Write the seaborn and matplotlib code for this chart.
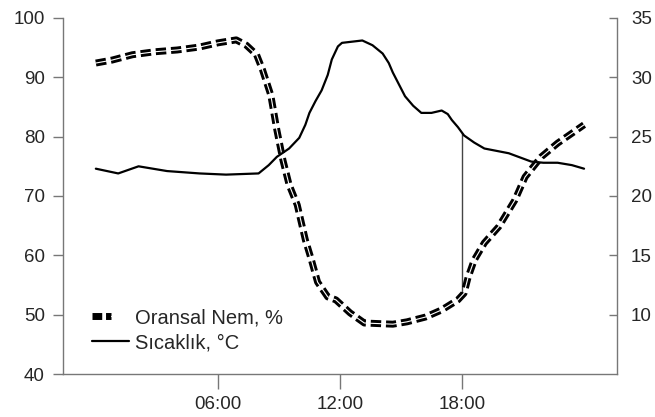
import numpy as np
import pandas as pd
import matplotlib
matplotlib.use("Agg")
import matplotlib.pyplot as plt
import seaborn as sns
from matplotlib.legend_handler import HandlerTuple
from matplotlib.lines import Line2D

# relative humidity (left axis), hours of day
hum_hours = [0.0, 0.8, 1.8, 2.9, 4.0, 5.1, 6.0, 6.9, 7.4, 7.9, 8.2, 8.6, 8.9, 9.2, 9.5,
             9.9, 10.3, 10.6, 10.9, 11.4, 11.8, 12.5, 13.2, 14.6, 15.3, 16.2, 17.0,
             17.8, 18.1, 18.3, 18.6, 19.1, 19.8, 20.6, 21.1, 21.9, 22.7, 23.5, 24.0]
hum_values = [92.4, 92.9, 93.8, 94.3, 94.6, 95.1, 95.8, 96.3, 95.4, 93.8, 91.2, 87.0, 81.1,
              76.0, 71.9, 68.5, 62.6, 59.2, 55.5, 53.0, 52.5, 50.3, 48.6, 48.4, 48.8,
              49.6, 50.8, 52.5, 53.6, 56.3, 59.2, 62.1, 64.8, 69.3, 73.2, 76.6, 78.9,
              80.8, 82.0]

# temperature (right axis)
temp_hours = [0.0, 1.1, 2.1, 3.5, 5.1, 6.4, 8.0, 8.5, 8.9, 9.5, 10.0, 10.3, 10.5, 10.8,
              11.1, 11.4, 11.6, 11.9, 12.1, 12.6, 13.1, 13.6, 14.1, 14.4, 14.6, 14.9,
              15.2, 15.6, 16.0, 16.5, 17.0, 17.3, 17.5, 17.8, 18.1, 18.6, 19.1, 19.7,
              20.3, 21.4, 22.0, 22.7, 23.4, 24.0]
temp_values = [22.3, 21.9, 22.5, 22.1, 21.9, 21.8, 21.9, 22.6, 23.3, 24.0, 24.9, 26.0,
               27.0, 28.0, 28.9, 30.2, 31.5, 32.6, 32.9, 33.0, 33.1, 32.7, 32.0, 31.2,
               30.4, 29.4, 28.4, 27.6, 27.0, 27.0, 27.2, 26.9, 26.4, 25.8, 25.1, 24.5,
               24.0, 23.8, 23.6, 22.9, 22.8, 22.8, 22.6, 22.3]

tick_hours = [6, 12, 18]
tick_labels = ["06:00", "12:00", "18:00"]
hum_label = "Oransal Nem, %"
temp_label = "Sıcaklık, °C"

hum_df = pd.DataFrame({"saat": hum_hours, "nem": hum_values})
temp_df = pd.DataFrame({"saat": temp_hours, "sicaklik": temp_values})

sns.set_style("white")
plt.rcParams["font.family"] = ["Liberation Sans", "DejaVu Sans"]
plt.rcParams["font.size"] = 13.5

fig = plt.figure(figsize=(6.55, 4.17), dpi=100)
ax = fig.add_axes([0.096, 0.103, 0.846, 0.854])
ax2 = ax.twinx()

# humidity: thick dashed black with a white core
sns.lineplot(data=hum_df, x="saat", y="nem", ax=ax, color="black", linewidth=5, zorder=3)
hum_line = ax.lines[-1]
hum_line.set_linestyle((0, (1.5, 0.7)))
hum_line.set_dash_capstyle("butt")
sns.lineplot(data=hum_df, x="saat", y="nem", ax=ax, color="white", linewidth=0.8,
             zorder=4)

# temperature
sns.lineplot(data=temp_df, x="saat", y="sicaklik", ax=ax2, color="black", linewidth=1.6)

# thin vertical connector at 18:00
t18 = np.interp(18, temp_hours, temp_values)
h18 = np.interp(18, hum_hours, hum_values)
ax.vlines(18, h18, 40 + 2 * (t18 - 5), color="#444444", linewidth=1, zorder=2)

ax.set_xlim(-1.62, 25.62)
ax.set_ylim(40, 100)
ax2.set_ylim(5, 35)
ax.set_yticks(range(40, 101, 10))
ax2.set_yticks(range(10, 36, 5))
ax.set_xticks(tick_hours)
ax.set_xticklabels(tick_labels)
ax.set_xlabel("")
ax.set_ylabel("")
ax2.set_ylabel("")

spine_col = "#777777"
for a in (ax, ax2):
    a.spines["top"].set_visible(False)
    for s in ("left", "right", "bottom"):
        a.spines[s].set_color(spine_col)
        a.spines[s].set_linewidth(1.0)
ax2.spines["left"].set_visible(False)
ax2.spines["bottom"].set_visible(False)
ax.spines["right"].set_visible(False)

ax.tick_params(axis="y", direction="out", length=7, width=1, color=spine_col,
               pad=6, labelsize=13.5, left=True)
ax.tick_params(axis="x", direction="out", length=11, width=1, color=spine_col,
               pad=5, labelsize=13.5, bottom=True)
ax2.tick_params(axis="y", direction="in", length=6, width=1, color=spine_col,
                pad=10, labelsize=13.5, right=True)

h1 = Line2D([], [], color="black", linewidth=5, linestyle=(0, (1.4, 0.55)),
            dash_capstyle="butt")
h1b = Line2D([], [], color="white", linewidth=0.8)
h2 = Line2D([], [], color="black", linewidth=1.6)
ax.legend([(h1, h1b), h2], [hum_label, temp_label],
          handler_map={tuple: HandlerTuple(ndivide=None, pad=0)},
          loc="lower left", bbox_to_anchor=(0.02, 0.01), frameon=False, fontsize=14.5,
          handlelength=1.85, handletextpad=0.3, labelspacing=0.3)

fig.savefig("out.png", dpi=100)
